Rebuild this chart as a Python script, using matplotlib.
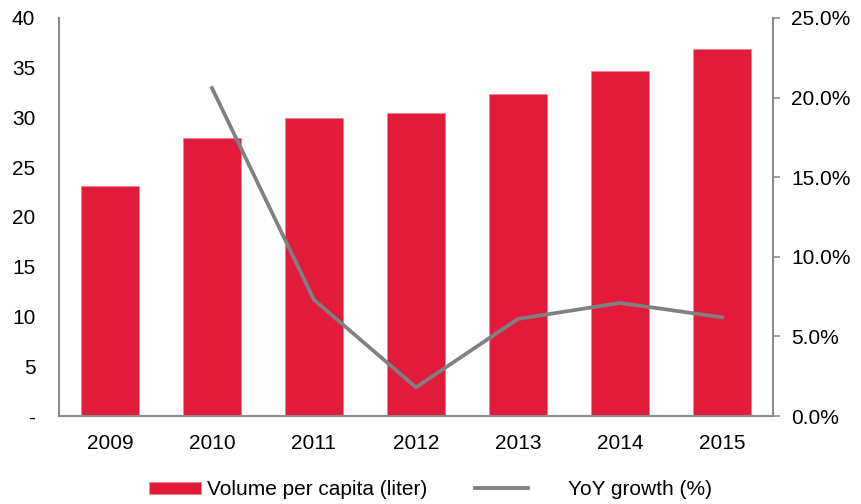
import numpy as np
import matplotlib.pyplot as plt
from matplotlib.ticker import FuncFormatter, MultipleLocator

# Consumo per cápita y crecimiento anual
years = ['2009', '2010', '2011', '2012', '2013', '2014', '2015']
volume = [23.1, 27.9, 29.95, 30.45, 32.4, 34.7, 36.9]
growth = [None, 20.6, 7.3, 1.8, 6.1, 7.1, 6.2]

RED = '#E31B3A'
GREY_LINE = '#808080'
GREY_AXIS = '#8C8C8C'

plt.rcParams['font.family'] = ['Liberation Sans', 'DejaVu Sans']
plt.rcParams['font.size'] = 15

fig = plt.figure(figsize=(8.62, 5.04), dpi=100)
ax = fig.add_axes([0.0684, 0.1746, 0.8284, 0.7897])

x = np.arange(len(years))
bars = ax.bar(x, volume, width=0.57, color=RED, edgecolor='#F08090',
              linewidth=0.5, label='Volume per capita (liter)', zorder=2)
ax.set_xlim(-0.5, len(years) - 0.5)
ax.set_ylim(0, 40)
ax.yaxis.set_major_locator(MultipleLocator(5))
ax.yaxis.set_major_formatter(FuncFormatter(lambda v, p: '-' if v == 0 else f'{v:.0f}'))
ax.set_xticks(x)
ax.set_xticklabels(years)
ax.tick_params(axis='y', length=0, pad=17)
ax.tick_params(axis='x', length=0, pad=13)

ax2 = ax.twinx()
gx = [i for i, g in zip(x, growth) if g is not None]
gy = [g for g in growth if g is not None]
line, = ax2.plot(gx, gy, color=GREY_LINE, linewidth=2.7,
                 label='YoY growth (%)', zorder=3)
ax2.set_ylim(0, 25)
ax2.yaxis.set_major_locator(MultipleLocator(5))
ax2.yaxis.set_major_formatter(FuncFormatter(lambda v, p: f'{v:.1f}%'))
ax2.tick_params(axis='y', length=5, width=1.2, color=GREY_AXIS, pad=8)

for a in (ax, ax2):
    a.spines['top'].set_visible(False)
    for side in ('left', 'right', 'bottom'):
        a.spines[side].set_color(GREY_AXIS)
        a.spines[side].set_linewidth(1.5)
ax.spines['right'].set_visible(False)
ax2.spines['left'].set_visible(False)
ax2.spines['bottom'].set_visible(False)

# Leyenda en la parte inferior, dos bloques separados
leg1 = fig.legend(handles=[bars], loc='center left', bbox_to_anchor=(0.173, 0.028),
                  frameon=False, handlelength=2.5, handleheight=0.55,
                  handletextpad=0.3, borderaxespad=0, borderpad=0)
leg2 = fig.legend(handles=[line], loc='center left', bbox_to_anchor=(0.551, 0.028),
                  frameon=False, handlelength=2.55, handletextpad=1.9,
                  borderaxespad=0, borderpad=0)

plt.savefig('out.png', dpi=100)
